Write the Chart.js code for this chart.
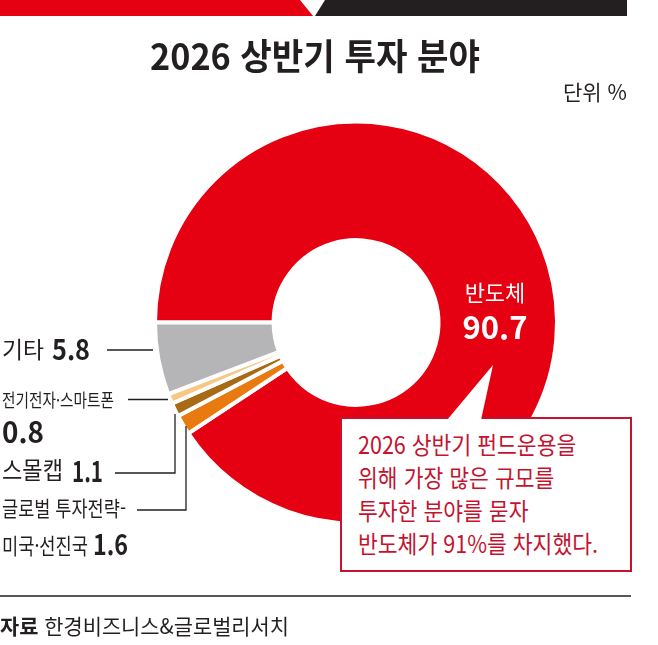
<!DOCTYPE html>
<html lang="ko">
<head>
<meta charset="utf-8">
<script src="https://cdn.jsdelivr.net/npm/chart.js@4.4.1/dist/chart.umd.min.js"></script>
<style>
  html, body { margin: 0; padding: 0; background: #fff; }
  #wrap { position: relative; width: 658px; height: 645px; overflow: hidden;
          font-family: "Noto Sans CJK KR", "Noto Sans", sans-serif; color: #231f20; }
  #pie { position: absolute; left: 0; top: 0; }
  .t { position: absolute; line-height: 1; white-space: nowrap; transform-origin: 0 50%; }
  .b { font-weight: 700; }
  #note { position: absolute; left: 340px; top: 417px; width: 292px; height: 155px;
          box-sizing: border-box; border: 2px solid #c4122f; background: #fff; }
  #noteText { position: absolute; left: 358px; top: 427px; font-size: 24px; line-height: 33px;
              color: #c4122f; white-space: nowrap; transform-origin: 0 0; }
  #tip { position: absolute; left: 0; top: 0; width: 658px; height: 645px; background: #fff;
         clip-path: polygon(493px 365px, 447px 420px, 481px 420px); }
</style>
</head>
<body>
<div id="wrap">
  <canvas id="pie" width="658" height="645"></canvas>

  <div class="t b" id="title" data-w="330" style="left:150px; top:36px; font-size:36px;">2026 상반기 투자 분야</div>
  <div class="t" id="unit" data-w="64" style="left:563px; top:81px; font-size:21px;">단위 %</div>

  <div class="t" id="mainName" style="left:445px; width:100px; text-align:center; top:280px; font-size:22px; color:#fff;"></div>
  <div class="t b" id="mainVal" style="left:445px; width:100px; text-align:center; top:310px; font-size:31px; color:#fff;"></div>

  <div class="t" id="n4" data-w="42" style="left:2px; top:337px; font-size:23px;"></div>
  <div class="t b" id="v4" data-w="38" style="left:52px; top:334px; font-size:28px;"></div>

  <div class="t" id="n3" data-w="112" style="left:2px; top:390px; font-size:18px;"></div>
  <div class="t b" id="v3" data-w="42" style="left:2px; top:416px; font-size:29px;"></div>

  <div class="t" id="n2" data-w="61" style="left:2px; top:457px; font-size:24px;"></div>
  <div class="t b" id="v2" data-w="31" style="left:72px; top:456px; font-size:28px;"></div>

  <div class="t" id="n1a" data-w="124" style="left:2px; top:497px; font-size:21px;"></div>
  <div class="t" id="n1b" data-w="86" style="left:2px; top:533px; font-size:22px;"></div>
  <div class="t b" id="v1" data-w="35" style="left:93px; top:529px; font-size:28px;"></div>

  <div id="note"></div>
  <div id="tip"></div>
  <div id="noteText" data-w="240">2026 상반기 펀드운용을<br>위해 가장 많은 규모를<br>투자한 분야를 묻자<br>반도체가 91%를 차지했다.</div>

  <div class="t" id="source" data-w="289" style="left:0px; top:615px; font-size:21px;"><span class="b">자료</span> 한경비즈니스&amp;글로벌리서치</div>
</div>

<script>
// data, clockwise from 9 o'clock
var categories = ['반도체', '글로벌 투자전략-미국·선진국', '스몰캡', '전기전자·스마트폰', '기타'];
var shares = [90.7, 1.6, 1.1, 0.8, 5.8];
var sliceColors = ['#e50012', '#e97a10', '#a86a14', '#f6c787', '#b5b5b7'];

// labels from the arrays
document.getElementById('mainName').textContent = categories[0];
document.getElementById('mainVal').textContent = shares[0].toFixed(1);
document.getElementById('n4').textContent = categories[4];
document.getElementById('v4').textContent = shares[4].toFixed(1);
document.getElementById('n3').textContent = categories[3];
document.getElementById('v3').textContent = shares[3].toFixed(1);
document.getElementById('n2').textContent = categories[2];
document.getElementById('v2').textContent = shares[2].toFixed(1);
var parts = categories[1].split('-');
document.getElementById('n1a').textContent = parts[0] + '-';
document.getElementById('n1b').textContent = parts[1];
document.getElementById('v1').textContent = shares[1].toFixed(1);

// squeeze condensed labels to the width they take in the print version
document.querySelectorAll('[data-w]').forEach(function (el) {
    var w = el.getBoundingClientRect().width;
    var target = +el.getAttribute('data-w');
    if (w > 0) el.style.transform = 'scaleX(' + (target / w) + ')';
});

// header bar, rule and leader lines
var decor = {
    id: 'decor',
    afterDraw: function (chart) {
        var c = chart.ctx;
        c.save();
        c.fillStyle = '#e50012';
        c.beginPath();
        c.moveTo(0, 0); c.lineTo(300, 0); c.lineTo(313, 16); c.lineTo(0, 16);
        c.closePath(); c.fill();
        c.fillStyle = '#231f20';
        c.beginPath();
        c.moveTo(325, 0); c.lineTo(627, 0); c.lineTo(627, 16); c.lineTo(315, 16);
        c.closePath(); c.fill();

        c.strokeStyle = '#231f20';
        c.lineWidth = 1.5;
        c.beginPath();
        c.moveTo(0, 596); c.lineTo(631, 596);
        c.stroke();

        c.lineWidth = 1.3;
        c.beginPath();
        c.moveTo(107, 350); c.lineTo(153, 350);
        c.moveTo(128, 399.5); c.lineTo(168, 399.5);
        c.moveTo(115, 473); c.lineTo(175, 473); c.lineTo(175, 414);
        c.moveTo(137, 510); c.lineTo(186, 510); c.lineTo(186, 426);
        c.stroke();
        c.restore();
    }
};

var ctx = document.getElementById('pie').getContext('2d');
var chart = new Chart(ctx, {
    type: 'doughnut',
    data: {
        labels: categories,
        datasets: [{
            data: shares,
            backgroundColor: sliceColors,
            borderColor: '#ffffff',
            borderWidth: 4
        }]
    },
    options: {
        responsive: false,
        animation: false,
        rotation: 270,
        radius: 201,
        cutout: '41%',
        layout: { padding: { left: 54, right: 0, top: 0, bottom: 0 } },
        plugins: {
            legend: { display: false },
            tooltip: { enabled: false }
        }
    },
    plugins: [decor]
});
</script>
</body>
</html>
